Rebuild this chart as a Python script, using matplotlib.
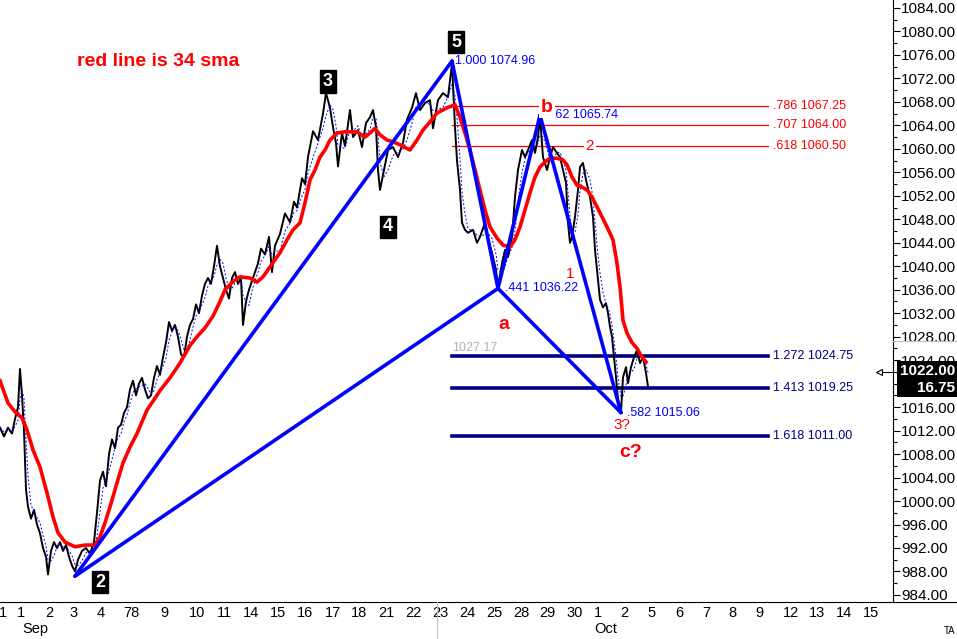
import matplotlib
matplotlib.use('Agg')
import matplotlib.pyplot as plt
import numpy as np
import pandas as pd
from matplotlib.patches import Rectangle
from matplotlib.lines import Line2D
from matplotlib.ticker import MultipleLocator, FormatStrFormatter

plt.rcParams['font.family'] = ['Liberation Sans', 'DejaVu Sans']

# intraday bar index (x) and price
price_t = [0, 4, 8, 12, 15, 18, 20, 22, 24, 26, 28, 31, 34, 37, 40, 43, 46, 48, 51, 54,
           57, 60, 63, 66, 69, 72, 75, 78, 82, 86, 90, 94, 97, 100, 103, 106, 109, 112, 115, 118,
           121, 124, 127, 130, 133, 136, 139, 142, 145, 148, 151, 154, 157, 160, 163, 166, 169, 172, 175, 178,
           181, 184, 187, 190, 193, 196, 199, 202, 205, 208, 211, 214, 217, 220, 223, 226, 229, 232, 235, 238,
           241, 243, 246, 249, 252, 255, 258, 261, 265, 269, 272, 275, 280, 285, 290, 294, 297, 302, 305, 308,
           313, 318, 323, 326, 330, 333, 336, 338, 342, 345, 350, 353, 358, 362, 366, 370, 373, 376, 378, 380,
           384, 388, 393, 398, 403, 407, 412, 416, 420, 425, 430, 433, 438, 443, 448, 452, 455, 457, 460, 462,
           465, 468, 473, 477, 480, 485, 488, 492, 496, 498, 502, 505, 508, 512, 515, 518, 522, 525, 528, 532,
           535, 538, 540, 543, 547, 550, 553, 557, 560, 563, 566, 568, 570, 572, 575, 578, 580, 583, 586, 590,
           593, 595, 597, 600, 603, 606, 608, 610, 612, 614, 616, 618, 621, 623, 626, 628, 631, 634, 637, 640,
           643, 646, 648]
price_v = [1012.5, 1011.0, 1012.5, 1011.5, 1014.0, 1016.0, 1022.5, 1018.0, 1012.0, 1002.0, 999.0, 997.0, 998.5, 996.0, 994.5, 992.0, 990.5, 987.5, 991.5, 993.0,
           992.0, 993.0, 991.5, 992.5, 990.5, 989.0, 988.0, 990.0, 991.5, 992.0, 991.0, 993.0, 998.0, 1003.5, 1005.0, 1002.5, 1008.0, 1010.5, 1009.0, 1012.5,
           1013.0, 1015.0, 1016.0, 1019.0, 1020.5, 1018.0, 1020.0, 1021.0, 1019.0, 1017.5, 1018.0, 1021.0, 1023.0, 1021.5, 1024.5, 1027.0, 1030.5, 1029.0, 1030.0, 1028.0,
           1025.0, 1024.5, 1028.0, 1030.0, 1031.0, 1033.5, 1032.0, 1035.0, 1037.0, 1038.0, 1037.0, 1040.0, 1043.5, 1040.0, 1038.0, 1036.0, 1034.5, 1038.0, 1039.0, 1037.0,
           1038.0, 1030.0, 1034.0, 1036.0, 1037.5, 1039.0, 1040.5, 1043.0, 1042.0, 1045.0, 1039.0, 1043.5, 1045.5, 1049.0, 1047.5, 1051.0, 1050.0, 1055.0, 1054.0, 1058.6,
           1063.0, 1061.5, 1066.0, 1069.5, 1067.0, 1063.7, 1061.0, 1057.0, 1062.7, 1060.5, 1066.6, 1062.0, 1063.2, 1060.3, 1064.4, 1065.4, 1066.6, 1063.7, 1056.4, 1053.0,
           1056.4, 1059.8, 1060.3, 1058.6, 1061.0, 1065.0, 1067.0, 1069.5, 1066.6, 1067.8, 1068.3, 1063.5, 1068.3, 1069.5, 1068.8, 1074.5, 1063.7, 1058.0, 1053.0, 1047.4,
           1046.2, 1045.7, 1046.2, 1044.0, 1045.0, 1047.4, 1044.5, 1042.3, 1039.4, 1036.5, 1040.5, 1042.8, 1041.6, 1045.0, 1051.8, 1056.4, 1059.8, 1058.6, 1059.8, 1061.5,
           1059.3, 1062.0, 1065.5, 1058.6, 1056.4, 1058.6, 1060.3, 1059.3, 1058.6, 1056.4, 1054.2, 1047.4, 1044.0, 1045.0, 1048.4, 1053.0, 1056.9, 1057.6, 1054.7, 1051.8,
           1048.4, 1042.8, 1039.4, 1034.3, 1033.0, 1033.7, 1032.0, 1029.7, 1028.0, 1024.5, 1021.1, 1017.2, 1015.2, 1021.1, 1022.8, 1020.1, 1022.8, 1024.5, 1025.7, 1023.5,
           1024.5, 1021.8, 1019.5]

# 34 sma (red line)
sma_t = [0, 8, 15, 22, 27, 33, 40, 47, 53, 58, 65, 75, 85, 95, 100, 105, 110, 117, 123, 130,
         137, 147, 160, 170, 180, 190, 197, 205, 213, 220, 225, 233, 240, 250, 257, 263, 270, 280, 287, 293,
         300, 305, 310, 315, 320, 325, 330, 337, 345, 357, 365, 370, 375, 380, 387, 393, 400, 410, 417, 423,
         430, 437, 447, 455, 460, 465, 470, 475, 480, 485, 490, 497, 503, 510, 515, 520, 525, 530, 535, 540,
         545, 550, 557, 563, 567, 572, 577, 582, 587, 592, 600, 607, 613, 617, 620, 623, 627, 632, 637, 642, 646]
sma_v = [1020.5, 1016.7, 1015.2, 1014.2, 1012.1, 1008.7, 1005.8, 1001.4, 997.3, 994.6, 993.0, 992.2, 992.5, 992.5, 993.9, 996.3, 999.0, 1003.1, 1006.5, 1009.2,
         1011.5, 1015.5, 1018.8, 1021.0, 1023.5, 1026.5, 1028.0, 1029.5, 1031.5, 1034.0, 1036.0, 1037.4, 1038.2, 1038.0, 1037.3, 1038.2, 1039.9, 1042.3, 1044.5, 1046.2,
         1047.4, 1050.8, 1054.7, 1056.4, 1058.6, 1059.8, 1061.5, 1062.7, 1062.9, 1062.9, 1062.0, 1062.7, 1063.5, 1062.4, 1061.5, 1061.2, 1060.7, 1059.8, 1061.5, 1063.2,
         1064.6, 1066.1, 1067.0, 1067.5, 1065.4, 1062.7, 1059.8, 1056.4, 1053.0, 1049.6, 1046.7, 1044.8, 1043.6, 1043.3, 1044.5, 1046.7, 1049.6, 1052.5, 1055.2, 1056.9,
         1057.8, 1058.4, 1058.4, 1058.1, 1057.3, 1055.2, 1053.8, 1053.5, 1053.0, 1051.8, 1049.1, 1046.7, 1044.5, 1040.5, 1036.5, 1030.8, 1028.6, 1027.0, 1026.0, 1024.5, 1023.7]

# pattern pivots: 2, 5, a, b, c
pat_t = [75, 452, 498, 540, 621]
pat_v = [987.2, 1074.96, 1036.22, 1065.74, 1015.06]
pat_ratio = ['', '1.000', '.441', '.62', '.582']

fib_red = [1067.25, 1064.00, 1060.50]
fib_red_lbl = ['.786', '.707', '.618']
fib_navy = [1024.75, 1019.25, 1011.00]
fib_navy_lbl = ['1.272', '1.413', '1.618']
fib_x0, fib_x1 = 452, 768

day_ticks = [3, 21, 49, 74, 101, 131, 164, 197, 224, 251, 278, 305, 333, 359, 386, 413, 440,
             467, 494, 521, 547, 575, 598, 624, 652, 679, 706, 732, 759, 791, 817, 844, 871]
day_labels = ['1', '1', '2', '3', '4', '78', '9', '10', '11', '14', '15', '16', '17', '18', '21', '22', '23',
              '24', '25', '28', '29', '30', '1', '2', '5', '6', '7', '8', '9', '12', '13', '14', '15']
month_ticks = [35, 606]
month_labels = ['Sep', 'Oct']

last_price = 1022.00
last_change = 16.75

W, H = 957, 639
fig = plt.figure(figsize=(W / 100, H / 100), dpi=100)
ax = fig.add_axes([0, 37 / H, 893 / W, 602 / H])
ax.set_xlim(0, 893)
ax.set_ylim(982.8, 1085.36)

for s in ['top', 'left']:
    ax.spines[s].set_visible(False)
ax.spines['right'].set_linewidth(0.8)
ax.spines['bottom'].set_linewidth(0.8)

ax.yaxis.tick_right()
ax.yaxis.set_minor_locator(MultipleLocator(2))
yt = np.arange(984, 1085, 4)
ax.set_yticks(yt)
# the 1020 label sits under the last-price box
ax.set_yticklabels(['' if v == 1020 else f'{v:.2f}' for v in yt])
ax.tick_params(axis='y', which='major', length=5, width=0.8, labelsize=11, pad=1)
ax.tick_params(axis='y', which='minor', length=3, width=0.8)
ax.set_xticks(day_ticks)
ax.set_xticklabels(day_labels)
ax.tick_params(axis='x', length=0, labelsize=10.5, pad=3)
for x, m in zip(month_ticks, month_labels):
    ax.text(x, -0.045, m, transform=ax.get_xaxis_transform(), ha='center', va='center', fontsize=10.5)

# fib levels
for v, l in zip(fib_red, fib_red_lbl):
    ax.plot([fib_x0, fib_x1], [v, v], color='red', lw=0.9, zorder=1)
    ax.text(fib_x1 + 5, v, f'{l} {v:.2f}', color='red', fontsize=9, ha='left', va='center')
for v, l in zip(fib_navy, fib_navy_lbl):
    ax.plot([fib_x0, fib_x1], [v, v], color='#000080', lw=2.6, zorder=1)
    ax.text(fib_x1 + 5, v, f'{l} {v:.2f}', color='#000080', fontsize=9, ha='left', va='center')
ax.text(fib_x0, 1026.1, '1027.17', color='#b0b0b0', fontsize=9, ha='left', va='center')

# price, fast average and 34 sma
ax.plot(price_t, price_v, color='black', lw=1.4, zorder=2)
fast = pd.Series(price_v).rolling(3, min_periods=1).mean()
ax.plot(price_t, fast, color='blue', lw=0.7, ls=(0, (2, 2)), zorder=2)
ax.plot(sma_t, sma_v, color='#ff0000', lw=2.6, zorder=3)

# pattern legs
legs = [(0, 1), (1, 2), (2, 3), (3, 4), (0, 2), (2, 4)]
for i, j in legs:
    ax.plot([pat_t[i], pat_t[j]], [pat_v[i], pat_v[j]], color='#0000ff', lw=2.6, zorder=4,
            solid_capstyle='round')
offs = [0, 3, 7, 12, 6]
for t, v, r, o in zip(pat_t, pat_v, pat_ratio, offs):
    if r:
        ax.text(t + o, v, f'{r} {v:.2f}', color='#0000ff', fontsize=9, ha='left', va='center', zorder=6)

# wave labels
box = dict(boxstyle='square,pad=0.15', fc='black', ec='black')
for t, v, s in [(456, 1078.2, '5'), (328, 1071.5, '3'), (388, 1046.7, '4'), (100, 986.2, '2')]:
    ax.text(t, v, s, color='white', fontsize=13, fontweight='bold', ha='center', va='center', bbox=box, zorder=7)

ax.text(77, 1074.8, 'red line is 34 sma', color='#ff0000', fontsize=14, fontweight='bold', ha='left', va='center')
wb = dict(boxstyle='square,pad=0.1', fc='white', ec='none')
ax.text(547, 1067.1, 'b', color='#ff0000', fontsize=14, fontweight='bold', ha='center', va='center', bbox=wb, zorder=6)
ax.text(504, 1030.0, 'a', color='#ff0000', fontsize=14, fontweight='bold', ha='center', va='center')
ax.text(631, 1008.2, 'c?', color='#ff0000', fontsize=14, fontweight='bold', ha='center', va='center')
ax.text(570, 1038.6, '1', color='#ff0000', fontsize=11, ha='center', va='center')
ax.text(622, 1013.0, '3?', color='#ff0000', fontsize=11, ha='center', va='center')
ax.text(590, 1060.5, '2', color='#ff0000', fontsize=11, ha='center', va='center', bbox=wb, zorder=6)

# last price marker on the axis
ax.plot([880, 893], [last_price, last_price], color='black', lw=0.8, clip_on=False)
ax.plot([879], [last_price], marker='<', ms=5, mfc='white', mec='black', mew=0.8, clip_on=False)
fig.add_artist(Line2D([893 / W, 1], [1 - 341 / H, 1 - 341 / H], color='#c0c0c0', lw=0.8))
fig.add_artist(Rectangle((897 / W, 1 - 397 / H), 60 / W, 36 / H, transform=fig.transFigure,
                         fc='black', ec='none', zorder=5))
fig.text(955 / W, 1 - 371 / H, f'{last_price:.2f}', color='white', fontsize=11, fontweight='bold',
         ha='right', va='center', zorder=6)
fig.text(955 / W, 1 - 388 / H, f'{last_change:.2f}', color='white', fontsize=11, fontweight='bold',
         ha='right', va='center', zorder=6)

fig.add_artist(Line2D([893 / W, 1], [37 / H, 37 / H], color='black', lw=0.8))
fig.add_artist(Line2D([437 / W, 437 / W], [0, 37 / H], color='#c0c0c0', lw=0.8))
fig.text(950 / W, 1 - 631 / H, 'TA', fontsize=7, ha='center', va='center')

fig.savefig('out.png', dpi=100)
